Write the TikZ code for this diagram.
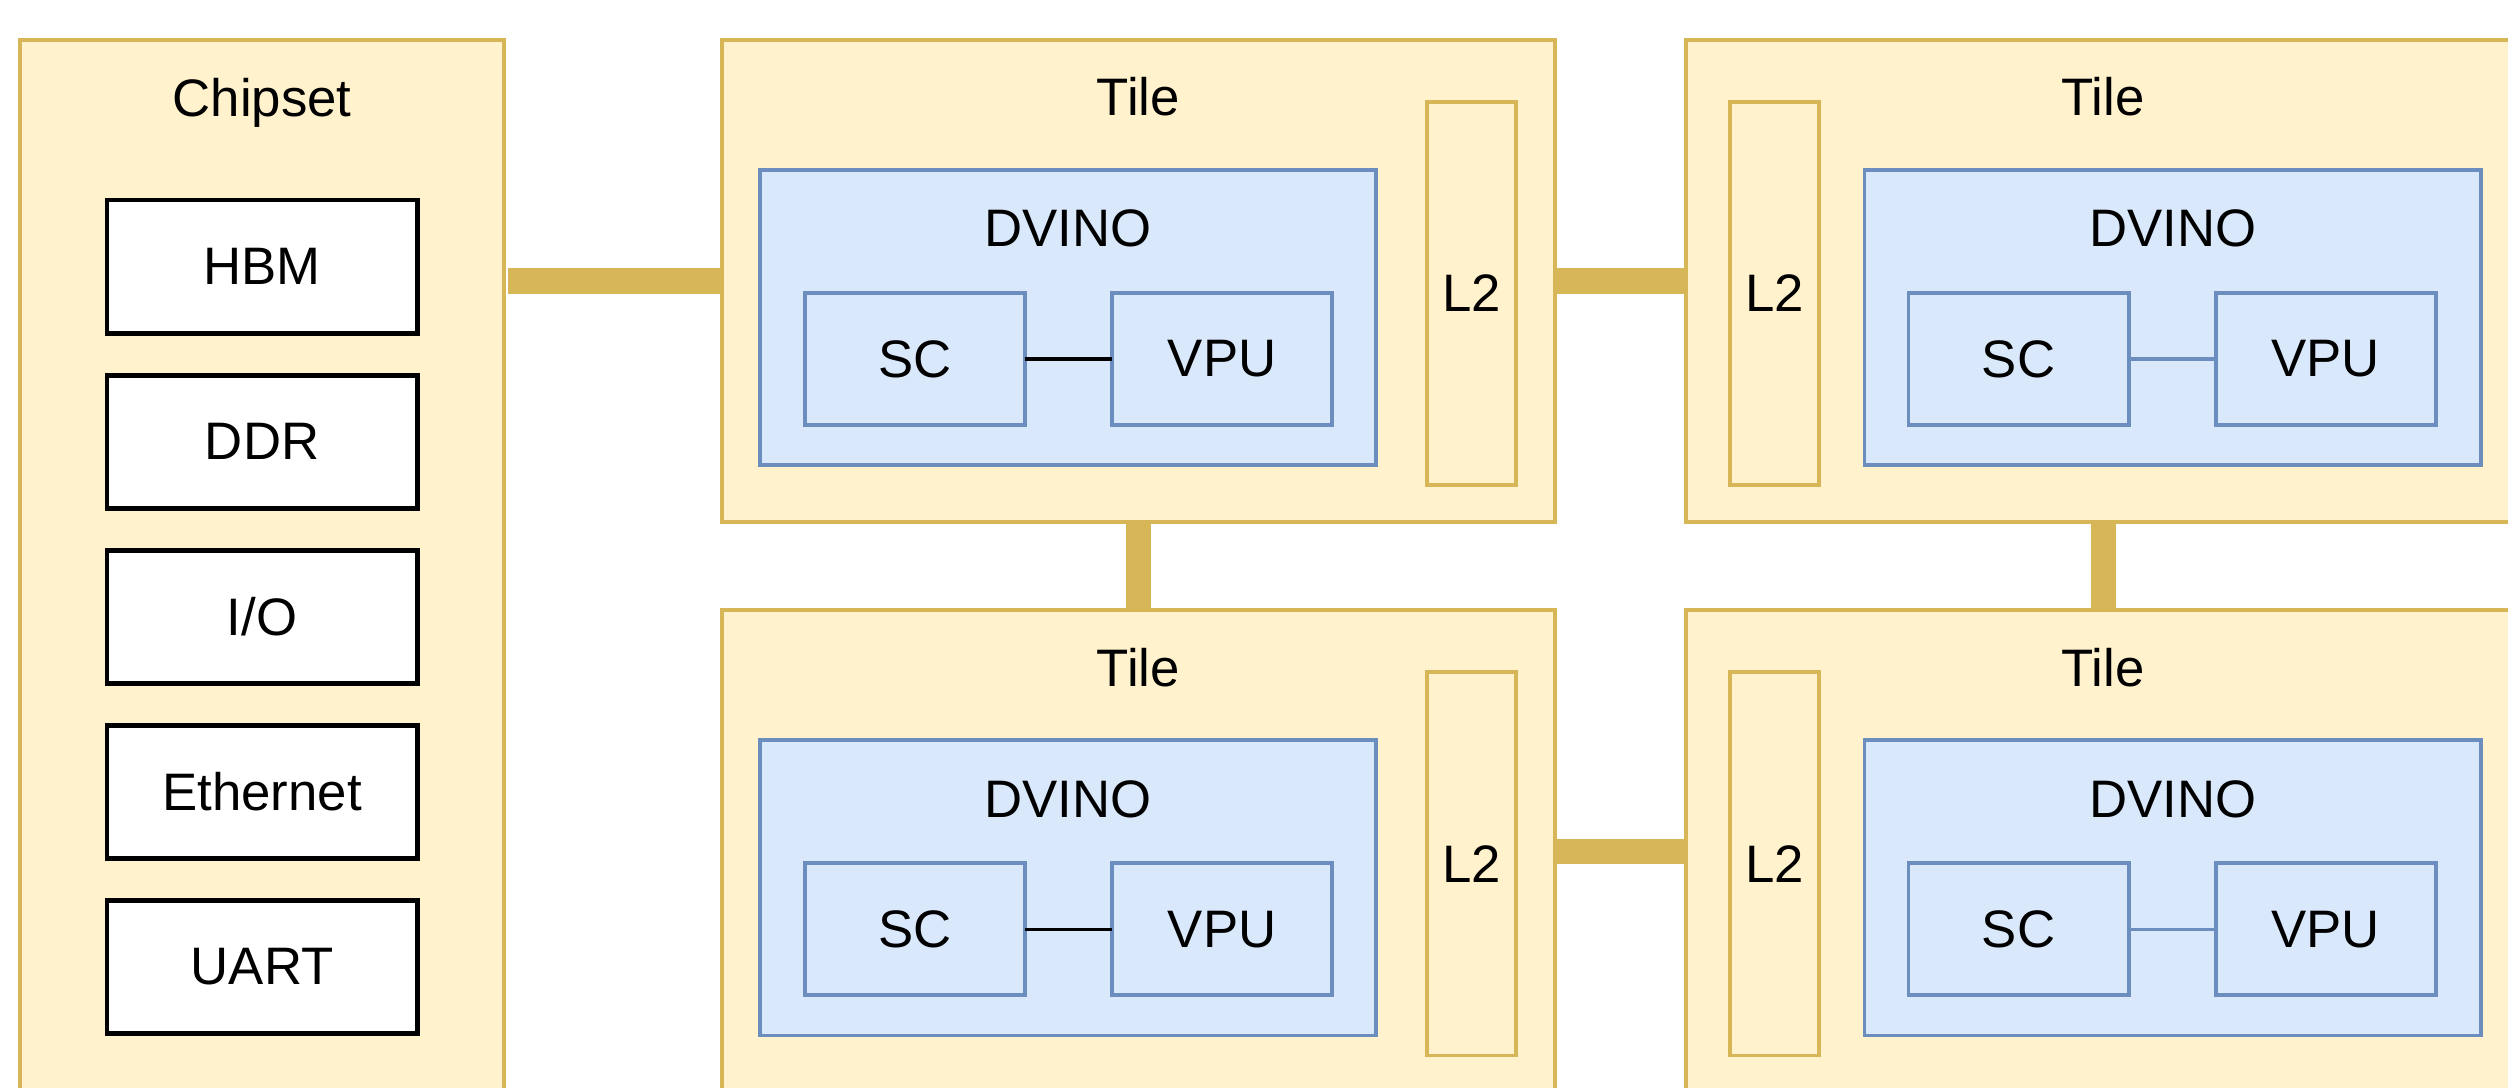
\documentclass[tikz,border=0pt]{standalone}
\usepackage{fontspec}
\setmainfont{Liberation Sans}
\usepackage{tikz}
\usetikzlibrary{positioning}

\definecolor{tilefill}{HTML}{FFF2CC}
\definecolor{tileline}{HTML}{D6B656}
\definecolor{corefill}{HTML}{DAE8FC}
\definecolor{coreline}{HTML}{6C8EBF}

\begin{document}
\begin{tikzpicture}[
        x=0.01cm, y=-0.01cm,
        box/.style={rectangle,draw,outer sep=0pt,inner sep=0pt,font=\fontsize{15}{18}\selectfont},
        tile/.style={box,draw=tileline,fill=tilefill,line width=1.1pt,minimum width=8.33cm,minimum height=4.82cm},
        ltwo/.style={box,draw=tileline,fill=tilefill,line width=1.1pt,minimum width=0.89cm,minimum height=3.83cm},
        dvino/.style={box,draw=coreline,fill=corefill,line width=1.1pt,minimum width=6.16cm,minimum height=2.95cm},
        unit/.style={box,draw=coreline,fill=corefill,line width=1.1pt,minimum width=2.2cm,minimum height=1.32cm},
        dev/.style={box,draw=black,fill=white,line width=1.4pt,minimum width=3.1cm,minimum height=1.33cm},
        txt/.style={anchor=base,inner sep=0pt,font=\fontsize{15}{18}\selectfont},
        link/.style={draw=tileline,line width=0.25cm},
        node distance=0.42cm
      ]
      \useasboundingbox (0,0) rectangle (2508,1088);
      \clip (0,0) rectangle (2508,1088);

      % chipset with its devices
      \node[tile,minimum width=4.84cm,minimum height=11cm,anchor=north west] (chip) at (20,40) {};
      \node[txt] (chiplbl) at ([yshift=-0.76cm]chip.north) {Chipset};
      \node[dev,anchor=north west] (hbm) at (107,200) {HBM};
      \node[dev] (ddr) [below=of hbm] {DDR};
      \node[dev] (io) [below=of ddr] {I/O};
      \node[dev] (eth) [below=of io] {Ethernet};
      \node[dev] (uart) [below=of eth] {UART};

      % the four tiles
      \node[tile] (t1) at (1138.5,281) {};
      \node[tile] (t2) [right=1.31cm of t1] {};
      \node[tile] (t3) [below=0.88cm of t1] {};
      \node[tile] (t4) [below=0.88cm of t2] {};

      % tile 1, L2 on the right
      \node[txt] (t1lbl) at ([yshift=-0.76cm]t1.north) {Tile};
      \node[dvino] (d1) [below right=1.30cm and 0.38cm of t1.north west] {};
      \node[txt] (d1lbl) at ([yshift=-0.77cm]d1.north) {DVINO};
      \node[unit] (sc1) [below right=1.23cm and 0.45cm of d1.north west] {SC};
      \node[unit] (vpu1) [right=0.87cm of sc1] {VPU};
      \node[ltwo] (l1) [below left=0.62cm and 0.39cm of t1.north east] {L2};
      \draw[line width=1pt] (sc1) -- (vpu1);

      % tile 2, L2 on the left
      \node[txt] (t2lbl) at ([yshift=-0.76cm]t2.north) {Tile};
      \node[dvino] (d2) [below left=1.30cm and 0.39cm of t2.north east] {};
      \node[txt] (d2lbl) at ([yshift=-0.77cm]d2.north) {DVINO};
      \node[unit] (sc2) [below right=1.23cm and 0.44cm of d2.north west] {SC};
      \node[unit] (vpu2) [right=0.87cm of sc2] {VPU};
      \node[ltwo] (l2) [below right=0.62cm and 0.44cm of t2.north west] {L2};
      \draw[coreline,line width=1pt] (sc2) -- (vpu2);

      % tile 3
      \node[txt] (t3lbl) at ([yshift=-0.76cm]t3.north) {Tile};
      \node[dvino] (d3) [below right=1.30cm and 0.38cm of t3.north west] {};
      \node[txt] (d3lbl) at ([yshift=-0.77cm]d3.north) {DVINO};
      \node[unit] (sc3) [below right=1.23cm and 0.45cm of d3.north west] {SC};
      \node[unit] (vpu3) [right=0.87cm of sc3] {VPU};
      \node[ltwo] (l3) [below left=0.62cm and 0.39cm of t3.north east] {L2};
      \draw[line width=1pt] (sc3) -- (vpu3);

      % tile 4
      \node[txt] (t4lbl) at ([yshift=-0.76cm]t4.north) {Tile};
      \node[dvino] (d4) [below left=1.30cm and 0.39cm of t4.north east] {};
      \node[txt] (d4lbl) at ([yshift=-0.77cm]d4.north) {DVINO};
      \node[unit] (sc4) [below right=1.23cm and 0.44cm of d4.north west] {SC};
      \node[unit] (vpu4) [right=0.87cm of sc4] {VPU};
      \node[ltwo] (l4) [below right=0.62cm and 0.44cm of t4.north west] {L2};
      \draw[coreline,line width=1pt] (sc4) -- (vpu4);

      % links
      \draw[link] ([xshift=0.04cm]chip.east |- t1.west) -- (t1.west);
      \draw[link] (t1) -- (t2);
      \draw[link] (t3) -- (t4);
      \draw[link] (t1) -- (t3);
      \draw[link] (t2) -- (t4);
    \end{tikzpicture}
\end{document}
